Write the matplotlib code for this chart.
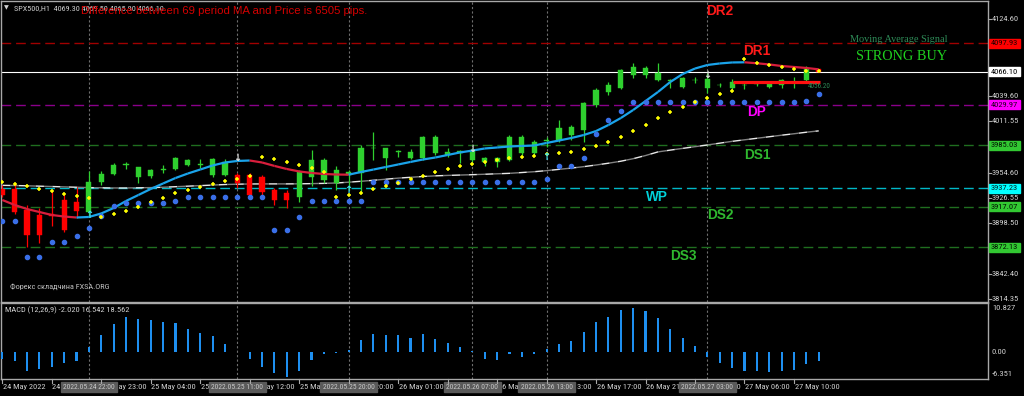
import matplotlib
matplotlib.use('Agg')
import matplotlib.pyplot as plt
import numpy as np
from matplotlib import font_manager
from matplotlib.collections import LineCollection
from matplotlib.transforms import blended_transform_factory

# ---------------- data ----------------
opens = [3936.5, 3936.1, 3913.2, 3907.7, 3908.5, 3924.3, 3922.3, 3911.3, 3944.6, 3953.1,
         3963.0, 3950.1, 3950.8, 3958.2, 3958.3, 3963.0, 3963.4, 3951.9, 3951.9, 3951.9,
         3951.9, 3950.1, 3935.3, 3932.0, 3928.0, 3950.1, 3946.4, 3943.1, 3951.9, 3953.8,
         3981.5, 3970.4, 3977.6, 3970.4, 3970.4, 3975.9, 3974.1, 3975.8, 3968.6, 3966.7,
         3966.3, 3969.0, 3975.9, 3976.0, 3989.5, 3990.7, 3996.2, 4001.8, 4029.4, 4044.1,
         4047.9, 4062.6, 4062.6, 4057.1, 4056.5, 4049.7, 4056.8, 4047.9, 4051.2, 4047.9,
         4051.2, 4052.9, 4049.3, 4051.6, 4054.5, 4057.1, 4069.3]
highs = [3940.9, 3943.1, 3918.8, 3915.5, 3934.5, 3930.7, 3938.3, 3956.7, 3956.4, 3965.2,
         3966.7, 3961.1, 3958.6, 3963.0, 3971.6, 3969.7, 3969.3, 3970.4, 3969.7, 3953.8,
         3954.2, 3951.9, 3937.6, 3935.3, 3957.5, 3979.6, 3970.4, 3961.9, 3957.5, 3985.2,
         3999.9, 3981.5, 3979.6, 3980.4, 3995.1, 3996.2, 3981.5, 3979.6, 3981.8, 3972.2,
         3972.2, 3996.0, 3996.7, 3990.7, 3994.3, 4012.8, 4007.3, 4033.1, 4048.2, 4054.5,
         4069.3, 4075.6, 4072.6, 4075.6, 4057.9, 4060.8, 4060.8, 4064.5, 4054.1, 4058.2,
         4054.1, 4055.2, 4055.2, 4058.2, 4060.4, 4072.6, 4069.5]
lows = [3927.6, 3909.0, 3872.6, 3876.7, 3895.8, 3889.0, 3904.1, 3906.0, 3940.9, 3951.9,
        3958.3, 3942.8, 3948.6, 3953.8, 3957.5, 3961.9, 3959.4, 3950.1, 3950.8, 3937.3,
        3927.6, 3929.8, 3918.8, 3915.1, 3922.4, 3940.0, 3942.8, 3935.3, 3935.3, 3931.7,
        3968.6, 3957.5, 3972.2, 3969.3, 3968.6, 3974.1, 3972.2, 3964.9, 3966.4, 3961.9,
        3961.1, 3967.0, 3974.0, 3974.1, 3983.3, 3988.8, 3990.7, 3988.8, 4027.2, 4040.5,
        4047.1, 4059.0, 4059.3, 4056.0, 4047.9, 4047.9, 4053.4, 4042.4, 4049.0, 4044.9,
        4046.8, 4050.7, 4047.9, 4047.9, 4047.9, 4054.9, 4065.9]
closes = [3929.8, 3911.3, 3885.6, 3885.6, 3906.9, 3891.1, 3912.4, 3944.6, 3953.1, 3963.0,
          3963.6, 3960.8, 3957.5, 3958.6, 3970.4, 3968.6, 3963.9, 3969.3, 3966.7, 3943.1,
          3929.8, 3933.5, 3924.3, 3924.3, 3955.6, 3968.6, 3968.6, 3957.5, 3955.6, 3981.5,
          3982.0, 3981.5, 3978.3, 3977.6, 3994.3, 3994.3, 3977.4, 3978.0, 3979.6, 3970.8,
          3970.8, 3993.5, 3994.3, 3988.8, 3990.7, 4003.6, 4005.4, 4031.3, 4046.0, 4051.6,
          4068.2, 4071.8, 4070.0, 4064.5, 4057.3, 4058.9, 4057.3, 4057.9, 4051.8, 4055.2,
          4051.8, 4053.5, 4054.3, 4057.1, 4055.2, 4068.9, 4066.1]

fast_ma = [3924.3, 3918.8, 3914.3, 3911.0, 3907.7, 3906.0, 3904.9, 3905.5, 3909.4, 3915.4,
           3923.2, 3929.8, 3936.5, 3942.6, 3948.6, 3953.6, 3958.0, 3962.5, 3965.8, 3967.5,
           3968.0, 3965.8, 3962.0, 3958.6, 3955.9, 3954.2, 3953.1, 3952.5, 3952.3, 3955.3,
           3958.0, 3960.8, 3963.6, 3966.4, 3969.1, 3971.3, 3974.1, 3976.9, 3979.0, 3981.3,
           3982.4, 3983.5, 3984.1, 3984.6, 3987.4, 3990.1, 3992.9, 3996.2, 4000.6, 4007.3,
           4015.0, 4023.9, 4033.8, 4043.8, 4054.9, 4063.7, 4069.8, 4073.7, 4075.4, 4076.5,
           4076.7, 4075.6, 4074.3, 4072.6, 4071.5, 4070.4, 4068.9]
slow_ma = [3940.5, 3940.3, 3940.0, 3939.6, 3939.2, 3938.8, 3938.4, 3938.0, 3937.8, 3937.6,
           3937.6, 3937.8, 3938.0, 3938.4, 3939.0, 3939.6, 3940.2, 3940.8, 3941.4, 3941.8,
           3942.0, 3942.1, 3942.1, 3942.1, 3942.2, 3942.4, 3942.7, 3943.1, 3944.0, 3945.0,
           3946.1, 3947.3, 3948.5, 3949.4, 3950.3, 3951.0, 3951.5, 3951.9, 3952.3, 3952.8,
           3953.3, 3953.8, 3954.7, 3955.6, 3956.8, 3958.2, 3959.6, 3961.2, 3963.0, 3965.0,
           3967.2, 3970.0, 3973.5, 3977.5, 3979.5, 3981.4, 3983.3, 3985.2, 3987.2, 3989.2,
           3990.9, 3992.6, 3994.3, 3996.0, 3997.6, 3999.3, 4000.8]
sar = [3944.5, 3942.0, 3939.8, 3936.5, 3934.3, 3930.9, 3928.7, 3926.2, 3905.8, 3908.5,
       3912.4, 3916.9, 3921.7, 3926.8, 3931.7, 3935.3, 3939.0, 3942.0, 3945.3, 3947.9,
       3950.9, 3972.2, 3969.3, 3966.0, 3962.7, 3959.4, 3955.6, 3927.3, 3929.8, 3932.4,
       3936.1, 3939.8, 3943.6, 3947.5, 3950.9, 3955.0, 3958.3, 3961.6, 3964.1, 3966.4,
       3968.6, 3970.4, 3971.9, 3973.3, 3974.9, 3976.3, 3977.7, 3980.4, 3983.7, 3988.8,
       3994.0, 4001.0, 4007.3, 4015.4, 4021.3, 4027.5, 4032.7, 4037.7, 4041.3, 4045.2,
       4080.0, 4076.2, 4073.7, 4071.1, 4068.9, 4067.6, 4066.5]
blue_dots = [3901.4, 3901.4, 3861.5, 3861.5, 3877.5, 3877.5, 3884.5, 3893.6, 3906.9, 3918.0,
             3921.3, 3921.3, 3921.3, 3921.3, 3923.5, 3927.3, 3927.3, 3927.3, 3927.3, 3927.3,
             3927.3, 3927.3, 3891.1, 3891.1, 3905.8, 3923.2, 3923.2, 3923.2, 3923.2, 3923.2,
             3944.5, 3944.5, 3944.5, 3944.5, 3944.5, 3944.5, 3944.5, 3944.5, 3944.5, 3944.5,
             3944.5, 3944.5, 3944.5, 3944.5, 3947.5, 3961.9, 3961.9, 3970.8, 3997.7, 4012.8,
             4022.8, 4033.1, 4033.1, 4033.1, 4033.1, 4033.1, 4033.1, 4033.1, 4033.1, 4033.1,
             4033.1, 4033.1, 4033.1, 4033.1, 4033.1, 4034.2, 4041.3]
macd_hist = [-1.66, -2.0, -4.2, -3.9, -3.5, -2.4, -2.0, 1.2, 3.8, 6.3,
             7.8, 7.5, 7.2, 6.7, 6.5, 5.3, 4.2, 3.7, 1.8, 0.1,
             -1.5, -3.3, -4.8, -5.6, -4.3, -1.8, -0.45, -0.15, 0.45, 2.7,
             4.1, 3.8, 3.8, 3.2, 4.1, 2.9, 2.1, 1.1, 0.15, -1.5,
             -1.9, -0.5, -1.05, -0.4, 0.7, 1.8, 2.4, 4.5, 6.7, 7.9,
             9.6, 9.9, 9.3, 7.6, 5.3, 3.2, 1.4, -1.05, -2.4, -3.6,
             -4.3, -4.3, -4.5, -4.2, -4.0, -2.6, -2.0]

levels = [4097.93, 4029.97, 3985.03, 3937.23, 3917.07, 3872.13]
level_colors = ['#a00000', '#8a008a', '#1f6e1f', '#00b8c8', '#1f6e1f', '#1f6e1f']
current_price = 4066.10

price_ticks = [4124.60, 4097.93, 4066.10, 4039.60, 4029.97, 4011.55, 3985.03, 3954.60,
               3937.23, 3926.55, 3917.07, 3898.50, 3872.13, 3842.40, 3814.35]
price_boxes = {4097.93: ('#ff0000', '#200000'), 4066.10: ('#ffffff', '#000000'),
               4029.97: ('#ff00ff', '#200020'), 3985.03: ('#32c832', '#001000'),
               3937.23: ('#00ffff', '#002020'), 3917.07: ('#32c832', '#001000'),
               3872.13: ('#32c832', '#001000')}

time_tick_bars = [0, 4, 8, 12, 16, 20, 24, 28, 32, 36, 40, 44, 48, 52, 56, 60, 64]
time_tick_labels = ['24 May 2022', '24 May 19:00', '24 May 23:00', '25 May 04:00', '25 May 08:00',
                    '25 May 12:00', '25 May 16:00', '25 May 20:00', '26 May 01:00', '26 May 05:00',
                    '26 May 09:00', '26 May 13:00', '26 May 17:00', '26 May 21:00', '27 May 02:00',
                    '27 May 06:00', '27 May 10:00']
vline_bars = [7, 19, 28, 38, 44, 57]
vline_labels = ['2022.05.24 22:00', '2022.05.25 11:00', '2022.05.25 20:00',
                '2022.05.26 07:00', '2022.05.26 13:00', '2022.05.27 03:00']
up_arrow_bars = [7, 28, 44]
up_arrow_prices = [3907.6, 3935.9, 3972.4]
down_arrow_bars = [19, 38, 57]
down_arrow_prices = [3971.3, 3980.7, 4062.6]
red_seg = (59.1, 66.1, 4055.2)

# ---------------- fonts ----------------
names = {f.name for f in font_manager.fontManager.ttflist}
NARROW = None
for cand in ['Liberation Sans Narrow', 'Roboto Condensed', 'Open Sans Condensed',
             'DejaVu Sans Condensed', 'Liberation Sans']:
    if cand in names:
        NARROW = cand
        break
if NARROW is None:
    NARROW = 'DejaVu Sans'
SANS = 'Liberation Sans' if 'Liberation Sans' in names else 'DejaVu Sans'
SERIF = 'Liberation Serif' if 'Liberation Serif' in names else 'DejaVu Serif'

W, H = 1024, 396
fig = plt.figure(figsize=(W / 100, H / 100), dpi=100, facecolor='black')
renderer = fig.canvas.get_renderer()


def fit(s, family, target_px, weight='normal'):
    t = fig.text(0, 0, s, fontsize=10, family=family, fontweight=weight)
    w = t.get_window_extent(renderer=renderer).width
    t.remove()
    return 10 * target_px / w


def fx(px):
    return px / W


def fy(py):
    return 1 - py / H


def pix2price(py):
    return 4124.6 - (py - 19) * 1.1067


def pix2bar(px):
    return (px - 2.3) / 12.37


FS_TIME = fit('27 May 10:00', NARROW, 44)
FS_PRICE = fit('4124.60', NARROW, 27)
FS_BOX = fit('2022.05.24 22:00', NARROW, 52)

ax = fig.add_axes([fx(1), fy(302), fx(988) - fx(1), fy(1) - fy(302)])
ax2 = fig.add_axes([fx(1), fy(379), fx(988) - fx(1), fy(303) - fy(379)])
for a in (ax, ax2):
    a.set_facecolor('black')
    for s in a.spines.values():
        s.set_color('#a8a8a8')
        s.set_linewidth(1.0)
    a.set_xlim(pix2bar(1), pix2bar(988))
    a.set_xticks([])
    a.set_yticks([])

ax.set_ylim(pix2price(302), pix2price(1))
ax2.set_ylim(-27 * 0.226, 49 * 0.226)

n = len(closes)
x = np.arange(n)

for b in vline_bars:
    ax.axvline(b, color='#6e6e6e', lw=0.8, ls=(0, (2, 2)), zorder=1)
    ax2.axvline(b, color='#6e6e6e', lw=0.8, ls=(0, (2, 2)), zorder=1)

for lv, c in zip(levels, level_colors):
    ax.axhline(lv, color=c, lw=1.0, ls=(0, (7, 3.5)), zorder=1)
ax.axhline(current_price, color='white', lw=0.8, zorder=1)

ax.plot(x, slow_ma, color='#e8e8e8', lw=1.0, ls=(0, (6, 6)), zorder=2)
ax.plot(x, slow_ma, color='#808080', lw=1.0, ls=(6, (6, 6)), zorder=2)

up_c, dn_c = '#2fd02f', '#ff0000'
for i in range(n):
    o, h, l, c = opens[i], highs[i], lows[i], closes[i]
    col = up_c if c >= o else dn_c
    ax.vlines(i, l, h, color=col, lw=0.9, zorder=3)
    lo, hi = min(o, c), max(o, c)
    if hi - lo < 0.9:
        mid = (hi + lo) / 2
        lo, hi = mid - 0.45, mid + 0.45
    ax.bar(i, hi - lo, bottom=lo, width=0.42, color=col, edgecolor=col, lw=0.3, zorder=4)

pts = np.column_stack([x, fast_ma])
segs = np.stack([pts[:-1], pts[1:]], axis=1)
cols = ['#1aa3ea' if fast_ma[i + 1] >= fast_ma[i] else '#d81e3c' for i in range(n - 1)]
ax.add_collection(LineCollection(segs, colors=cols, linewidths=1.6, zorder=5))

ax.plot(x, blue_dots, ls='none', marker='o', ms=3.0, color='#3a6fe8', mec='#3a6fe8', zorder=6)
ax.plot(x, sar, ls='none', marker='+', ms=3.2, mew=1.1, color='#ffff00', zorder=6)

for b, p in zip(up_arrow_bars, up_arrow_prices):
    ax.text(b, p, '\u2191', color='#40e0f0', fontsize=7, fontweight='bold', ha='center',
            va='center', family='DejaVu Sans', zorder=7)
for b, p in zip(down_arrow_bars, down_arrow_prices):
    ax.text(b, p, '\u2193', color='#e0e0e0', fontsize=7, fontweight='bold', ha='center',
            va='center', family='DejaVu Sans', zorder=7)

ax.hlines(red_seg[2], red_seg[0], red_seg[1], color='#ff1010', lw=2.3, zorder=7)
fig.text(fx(819), fy(86), '4056.20', color='#2e8b57', fontsize=FS_PRICE * 0.85, family=NARROW,
         ha='center', va='center')

ax2.bar(x, macd_hist, width=0.17, color='#1e8ff0', zorder=3)

# ---------------- texts ----------------
for p in price_ticks:
    py = 19 + (4124.6 - p) / 1.1067
    if p in price_boxes:
        bg, fg = price_boxes[p]
        fig.text(fx(991), fy(py), f'{p:.2f}', color=fg, fontsize=FS_PRICE, family=NARROW,
                 ha='left', va='center',
                 bbox=dict(boxstyle='square,pad=0.18', fc=bg, ec=bg))
    else:
        fig.text(fx(992), fy(py), f'{p:.2f}', color='#d0d0d0', fontsize=FS_PRICE, family=NARROW,
                 ha='left', va='center')
    fig.add_artist(plt.Line2D([fx(988), fx(991)], [fy(py), fy(py)], color='#a8a8a8', lw=0.8))

for lab, py in [('10.827', 308.5), ('0.00', 352.3), ('-6.351', 374.3)]:
    fig.text(fx(992), fy(py), lab, color='#d0d0d0', fontsize=FS_PRICE, family=NARROW,
             ha='left', va='center')

tb = blended_transform_factory(ax2.transData, fig.transFigure)
for b, lab in zip(time_tick_bars, time_tick_labels):
    ax2.text(b + 0.05, fy(387), lab, transform=tb, color='#d0d0d0', fontsize=FS_TIME,
             family=NARROW, ha='left', va='center', clip_on=False, zorder=1)
    fig.add_artist(plt.Line2D([fx(2.3 + 12.37 * b)] * 2, [fy(379), fy(383)],
                              color='#a8a8a8', lw=0.8))
for b, lab in zip(vline_bars, vline_labels):
    ax2.text(b, fy(387), lab, transform=tb, color='#c8c8c8', fontsize=FS_BOX, family=NARROW,
             ha='center', va='center', clip_on=False, zorder=10,
             bbox=dict(boxstyle='square,pad=0.3', fc='#5a5a5a', ec='#5a5a5a'))

fig.text(fx(4), fy(8), '\u25bc', color='#d0d0d0', fontsize=4.5, family='DejaVu Sans',
         ha='left', va='center')
s_hdr = 'SPX500,H1  4069.30 4069.50 4065.90 4066.10'
fig.text(fx(14), fy(8), s_hdr, color='#d0d0d0', fontsize=fit(s_hdr, NARROW, 149),
         family=NARROW, ha='left', va='center')
s_red = 'Difference between 69 period MA and Price is 6505 pips.'
fig.text(fx(224), fy(11), s_red, color='#d40000', fontsize=fit(s_red, SANS, 288),
         family=SANS, ha='center', va='center')
s_mas = 'Moving Average Signal'
fig.text(fx(899), fy(40), s_mas, color='#2e8b57', fontsize=fit(s_mas, SERIF, 98),
         family=SERIF, ha='center', va='center')
s_sb = 'STRONG BUY'
fig.text(fx(902), fy(57), s_sb, color='#1fd01f', fontsize=fit(s_sb, SERIF, 91),
         family=SERIF, ha='center', va='center')
s_fx = '\u0424\u043e\u0440\u0435\u043a\u0441 \u0441\u043a\u043b\u0430\u0434\u0447\u0438\u043d\u0430 FXSA.ORG'
fig.text(fx(10), fy(287), s_fx, color='#c0c0c0', fontsize=fit(s_fx, NARROW, 100),
         family=NARROW, ha='left', va='center')
s_macd = 'MACD (12,26,9) -2.020 16.542 18.562'
fig.text(fx(5), fy(310), s_macd, color='#d0d0d0', fontsize=fit(s_macd, NARROW, 123),
         family=NARROW, ha='left', va='center')

FS_PIV = fit('DR2', SANS, 27, weight='bold')
for lab, px, py, c in [('DR2', 720, 11, '#ff1a1a'), ('DR1', 757, 51, '#ff1a1a'),
                       ('DP', 757, 112, '#ff00ff'), ('DS1', 757, 155, '#2fb82f'),
                       ('WP', 657, 197, '#00d0d8'), ('DS2', 720, 215, '#2fb82f'),
                       ('DS3', 683, 256, '#2fb82f')]:
    fig.text(fx(px), fy(py), lab, color=c, fontsize=FS_PIV, fontweight='bold', family=SANS,
             ha='center', va='center')

fig.savefig('out.png', dpi=100, facecolor='black')
